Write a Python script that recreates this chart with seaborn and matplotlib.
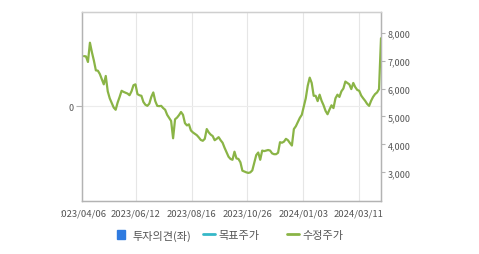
import numpy as np
import pandas as pd
import matplotlib
matplotlib.use("Agg")
import matplotlib.pyplot as plt
import seaborn as sns
from matplotlib.patches import Patch, Rectangle
from matplotlib.lines import Line2D

# ---- data ----
price = [
    7160, 7150, 6950, 7640, 7300, 7000, 6650, 6640, 6520, 6330,
    6150, 6450, 5900, 5650, 5480, 5320, 5240, 5500, 5700, 5920,
    5880, 5850, 5820, 5760, 5900, 6120, 6150, 5800, 5760, 5740,
    5520, 5420, 5380, 5460, 5700, 5860, 5550, 5380, 5370, 5380,
    5300, 5240, 5060, 4950, 4840, 4220, 4900, 4960, 5050, 5160,
    5060, 4760, 4680, 4720, 4500, 4430, 4380, 4330, 4250, 4160,
    4130, 4200, 4550, 4430, 4350, 4300, 4150, 4200, 4260, 4150,
    4060, 3880, 3720, 3560, 3480, 3450, 3740, 3500, 3480, 3360,
    3060, 3030, 3000, 2980, 3000, 3070, 3350, 3620, 3710, 3450,
    3780, 3760, 3780, 3800, 3780, 3680, 3650, 3650, 3700, 4080,
    4060, 4100, 4200, 4150, 4050, 3960, 4550, 4650, 4800, 4950,
    5060, 5350, 5650, 6100, 6390, 6200, 5740, 5740, 5550, 5780,
    5560, 5400, 5200, 5080, 5250, 5400, 5300, 5650, 5780, 5700,
    5900, 6000, 6250, 6200, 6150, 5980, 6200, 6050, 5950, 5920,
    5750, 5650, 5560, 5450, 5380, 5560, 5700, 5800, 5860, 5980,
    7800,
]
date_labels = ["2023/04/06", "2023/06/12", "2023/08/16", "2023/10/26", "2024/01/03", "2024/03/11"]
right_ticks = [3000, 4000, 5000, 6000, 7000, 8000]
left_ticks = [0]
legend_labels = ["투자의견(좌)", "목표주가", "수정주가"]

# ---- layout / style ----
W, H = 479, 255
GREEN = "#8ab446"
BLUE = "#2f7be0"
CYAN = "#35b8c8"
SPINE = "#b3b3b3"
GRID = "#e6e6e6"
TXT = "#555555"

sns.set_theme(style="white")
plt.rcParams["font.family"] = ["Noto Sans CJK KR", "DejaVu Sans"]

fig = plt.figure(figsize=(W / 100, H / 100), dpi=100, facecolor="white")
L, R, T, B = 82, 381, 12.7, 201.5
ax = fig.add_axes([L / W, 1 - B / H, (R - L) / W, (B - T) / H])
ax2 = ax.twinx()

df = pd.DataFrame({"idx": np.arange(len(price)), "price": price})
sns.lineplot(data=df, x="idx", y="price", ax=ax2, color=GREEN, linewidth=1.6)

n = len(price) - 1
ax.set_xlim(0, n)
ax2.set_xlim(0, n)
tick_px = [80, 134, 190.3, 246.3, 302.7, 358.7]
tick_pos = [(p - L) / (R - L) * n for p in tick_px]
ax.set_xticks(tick_pos)
ax.set_xticklabels(date_labels)
ax.set_ylim(-1, 1)
ax.set_yticks(left_ticks)
ax.set_yticklabels([str(v) for v in left_ticks])

ax2.set_ylim(1993, 8750)
ax2.set_yticks(right_ticks)
ax2.set_yticklabels([f"{v:,}" for v in right_ticks])
ax2.set_xlabel("")
ax2.set_ylabel("")
ax.set_xlabel("")
ax.set_ylabel("")

ax.grid(False)
for p in tick_px[1:]:
    ax.axvline((p - L) / (R - L) * n, color=GRID, linewidth=0.8, zorder=0)
ax.grid(True, axis="y", color="#ececec", linewidth=0.8)
ax2.grid(False)

for a in (ax, ax2):
    for s in a.spines.values():
        s.set_color(SPINE)
        s.set_linewidth(0.9)
    a.spines["top"].set_color("#cfcfcf")

ax.tick_params(axis="x", length=0, pad=6, labelsize=6.8, labelcolor=TXT)
ax.tick_params(axis="y", length=4, width=0.8, color=SPINE, pad=2, labelsize=6.5, labelcolor=TXT)
ax2.tick_params(axis="y", length=3, width=0.8, color=SPINE, pad=2, labelsize=6.5, labelcolor=TXT)

# the chart container cuts the first date label at its left edge
fig.patches.append(Rectangle((0, 0), 61.3 / W, 1 - 203 / H, transform=fig.transFigure,
                             facecolor="white", edgecolor="none", zorder=10))

# ---- legend ----
ly = 1 - 236 / H
fs = 8
fig.legend(handles=[Patch(facecolor=BLUE, edgecolor=BLUE)], labels=[legend_labels[0]],
           loc="center left", bbox_to_anchor=(116.5 / W, ly), frameon=False, fontsize=fs,
           handlelength=0.8, handleheight=0.8, handletextpad=0.6, borderpad=0, borderaxespad=0,
           labelcolor=TXT)
fig.legend(handles=[Line2D([], [], color=CYAN, linewidth=2)], labels=[legend_labels[1]],
           loc="center left", bbox_to_anchor=(203 / W, ly), frameon=False, fontsize=fs,
           handlelength=1.1, handletextpad=0.3, borderpad=0, borderaxespad=0, labelcolor=TXT)
fig.legend(handles=[Line2D([], [], color=GREEN, linewidth=2)], labels=[legend_labels[2]],
           loc="center left", bbox_to_anchor=(286.5 / W, ly), frameon=False, fontsize=fs,
           handlelength=1.1, handletextpad=0.3, borderpad=0, borderaxespad=0, labelcolor=TXT)

fig.savefig("out.png", dpi=100, facecolor="white")
